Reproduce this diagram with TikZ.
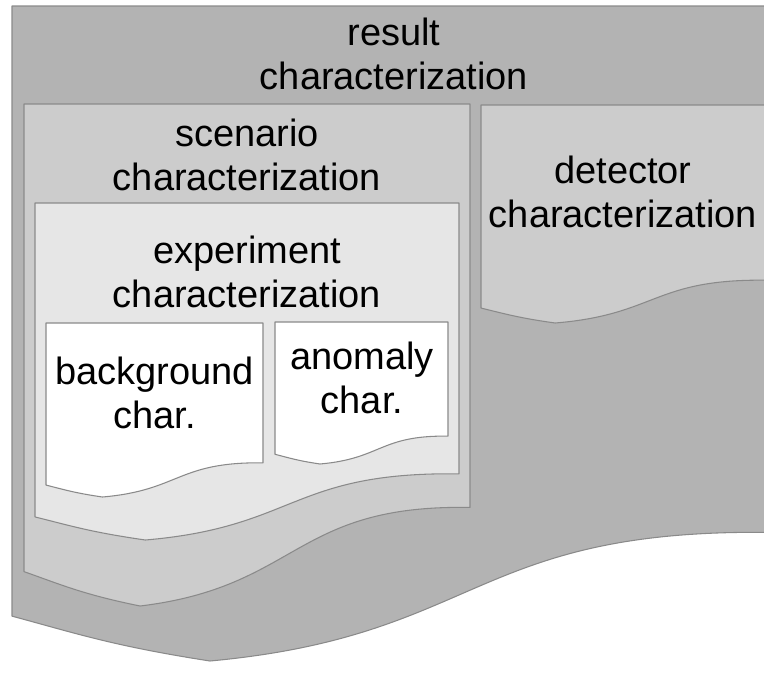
\documentclass[tikz,border=0pt]{standalone}
\usepackage{fontspec}
\setmainfont{Liberation Sans}
\definecolor{shadeA}{HTML}{B3B3B3}
\definecolor{shadeB}{HTML}{CCCCCC}
\definecolor{shadeC}{HTML}{E6E6E6}
\definecolor{edge}{HTML}{8A8A8A}
% flowchart "document" outline: left, top, width, height, fill
\newcommand{\docshape}[5]{%
  \filldraw[docbox, fill=#5] (#1,#2) -- ({#1+#3},#2) -- ({#1+#3},{#2+0.8037*#4})
    .. controls ({#1+0.6042*#3},{#2+0.7972*#4}) and ({#1+0.6176*#3},{#2+0.9616*#4}) .. ({#1+0.2602*#3},{#2+#4})
    .. controls ({#1+0.1324*#3},{#2+0.9769*#4}) and ({#1+0.0856*#3},{#2+0.9583*#4}) .. (#1,{#2+0.9315*#4}) -- cycle;}
\tikzset{
  docbox/.style={draw=edge, line width=0.8pt, line join=round},
  label/.style={align=center, anchor=base, inner sep=0pt, text=black,
    font=\fontsize{28.5}{32.3}\selectfont}
}
\begin{document}
\begin{tikzpicture}[x=0.75pt, y=-0.75pt]
\useasboundingbox (0,0) rectangle (764,693);
\clip (0,0) rectangle (764,693);
\docshape{12}{6}{761}{655}{shadeA}
\docshape{24}{104}{446}{502}{shadeB}
\docshape{481}{105}{285}{218}{shadeB}
\docshape{35}{203}{424}{337}{shadeC}
\docshape{46}{323}{217}{174}{white}
\docshape{275}{322}{173}{142}{white}
% labels: anchored at the baseline of their last line
\node[label] (result) at (394,89) {result\\characterization};
\node[label] (scenario) at (247,190) {scenario\\characterization};
\node[label] (detector) at (623,227) {detector\\characterization};
\node[label] (experiment) at (247,307) {experiment\\characterization};
\node[label] (background) at (154.5,428) {background\\char.};
\node[label] (anomaly) at (362,413) {anomaly\\char.};
\end{tikzpicture}
\end{document}
